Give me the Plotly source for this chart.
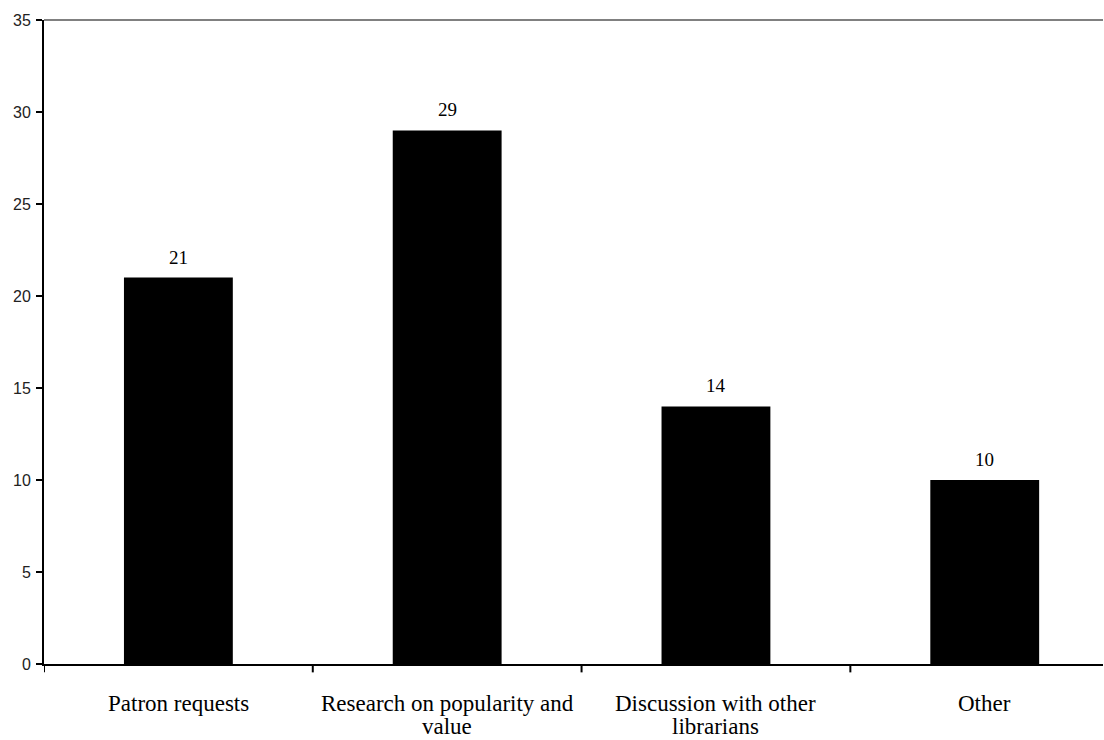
import plotly.graph_objects as go

categories = ["Patron requests", "Research on popularity and<br>value",
              "Discussion with other<br>librarians", "Other"]
values = [21, 29, 14, 10]
y_ticks = [0, 5, 10, 15, 20, 25, 30, 35]

xs = list(range(len(categories)))

fig = go.Figure()
fig.add_trace(go.Bar(
    x=xs, y=values,
    marker=dict(color="black", line=dict(width=0)),
    width=0.405,
    hoverinfo="skip",
))

annotations = []
# value labels
for x, v in zip(xs, values):
    annotations.append(dict(x=x, y=v, xref="x", yref="y", text=str(v),
                            showarrow=False, yanchor="bottom", yshift=8,
                            font=dict(family="Liberation Serif", size=19, color="black")))
# category labels (line by line)
for x, c in zip(xs, categories):
    for j, line in enumerate(c.split("<br>")):
        annotations.append(dict(x=x, y=0, xref="x", yref="paper", text=line,
                                showarrow=False, yanchor="middle",
                                yshift=-39 - 23 * j,
                                font=dict(family="Liberation Serif", size=23, color="black")))

fig.add_shape(type="line", xref="paper", yref="paper", x0=0, x1=1, y0=1, y1=1,
              line=dict(color="#808080", width=2))
for b in [-0.5, 0.5, 1.5, 2.5]:
    fig.add_shape(type="line", xref="x", yref="paper", x0=b, x1=b, y0=0, y1=-0.013,
                  line=dict(color="black", width=2))

fig.update_layout(
    width=1104, height=740,
    margin=dict(l=44, r=1, t=20, b=76),
    paper_bgcolor="white", plot_bgcolor="white",
    showlegend=False,
    annotations=annotations,
    xaxis=dict(
        range=[-0.5, 3.44],
        showticklabels=False,
        showgrid=False, zeroline=False,
        showline=True, linecolor="black", linewidth=2,
        ticks="",
    ),
    yaxis=dict(
        range=[0, 35], tickvals=y_ticks,
        showgrid=False, zeroline=False,
        showline=True, linecolor="black", linewidth=2,
        ticks="outside", ticklen=6, tickwidth=2, tickcolor="black",
        tickfont=dict(family="Liberation Sans", size=16, color="#222"),
        ticklabelstandoff=2,
    ),
)

fig.write_html("out.html", config={"displayModeBar": False},
               post_script="document.body.style.margin='0px';document.body.style.overflow='hidden';")
